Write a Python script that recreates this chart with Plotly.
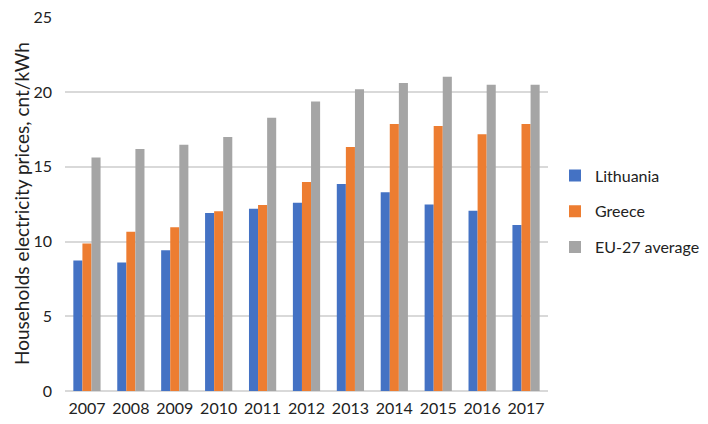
import plotly.graph_objects as go

years = ["2007", "2008", "2009", "2010", "2011", "2012", "2013", "2014", "2015", "2016", "2017"]
lithuania = [8.73, 8.6, 9.42, 11.9, 12.19, 12.6, 13.84, 13.3, 12.47, 12.06, 11.1]
greece = [9.86, 10.66, 10.95, 12.03, 12.45, 13.99, 16.32, 17.87, 17.73, 17.17, 17.87]
eu27 = [15.62, 16.19, 16.47, 17.0, 18.28, 19.37, 20.19, 20.6, 21.02, 20.48, 20.48]
y_ticks = [0, 5, 10, 15, 20, 25]
y_title = "Households electricity prices, cnt/kWh"

series = [
    ("Lithuania", lithuania, "#4472C4"),
    ("Greece", greece, "#ED7D31"),
    ("EU-27 average", eu27, "#A5A5A5"),
]

fig = go.Figure()
for name, vals, color in series:
    fig.add_trace(go.Bar(x=years, y=vals, name=name, marker_color=color,
                         marker_line_width=0, legendgroup=name))

# page body has an 8px margin, so the figure is sized to the remaining window
W, H = 700, 416
L, R, T, B = 57, 160, 9, 33
plot_w = W - L - R

fig.update_layout(
    width=W, height=H,
    margin=dict(l=L, r=R, t=T, b=B, autoexpand=False),
    paper_bgcolor="white", plot_bgcolor="white",
    font=dict(family="Lato, Open Sans, sans-serif", size=16, color="#222222"),
    barmode="group", bargap=0.38, bargroupgap=0,
    legend=dict(x=(547 - L) / plot_w, xanchor="left", y=0.48, yanchor="middle",
                traceorder="grouped", tracegroupgap=12,
                font=dict(size=16, color="#222222")),
    xaxis=dict(showgrid=False, showline=False, ticks="", automargin=False,
               tickfont=dict(size=16), ticklabelstandoff=6),
    yaxis=dict(range=[0, 25.02], tickvals=y_ticks, showgrid=True,
               gridcolor="#D9D9D9", automargin=False, ticklabeloverflow="allow",
               gridwidth=1.5, zeroline=True, zerolinecolor="#D9D9D9",
               zerolinewidth=1.5, ticks="", tickfont=dict(size=16),
               ticklabelstandoff=12),
    annotations=[dict(text=y_title, textangle=-90, xref="paper", yref="paper",
                      x=(13 - L) / plot_w, y=0.5, xanchor="center", yanchor="middle",
                      showarrow=False, font=dict(size=19, color="#222222"))],
)

fig.write_html("out.html")
